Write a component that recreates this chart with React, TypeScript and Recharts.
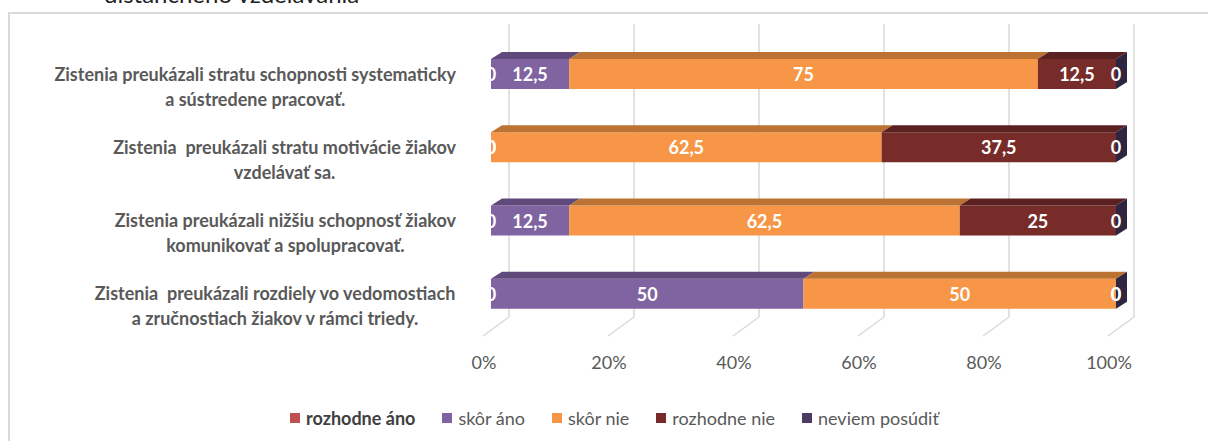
import React from 'react';
import { BarChart, Bar, XAxis, YAxis, CartesianGrid, LabelList } from 'recharts';

// ---------- data ----------
const categories = [
  'Zistenia preukázali stratu schopnosti systematicky\na sústredene pracovať.',
  'Zistenia  preukázali stratu motivácie žiakov\nvzdelávať sa.',
  'Zistenia preukázali nižšiu schopnosť žiakov\nkomunikovať a spolupracovať.',
  'Zistenia  preukázali rozdiely vo vedomostiach\na zručnostiach žiakov v rámci triedy.',
];
const rozhodneAno = [0, 0, 0, 0];
const skorAno = [12.5, 0, 12.5, 50];
const skorNie = [75, 62.5, 62.5, 50];
const rozhodneNie = [12.5, 37.5, 25, 0];
const neviemPosudit = [0, 0, 0, 0];
const seriesNames = ['rozhodne áno', 'skôr áno', 'skôr nie', 'rozhodne nie', 'neviem posúdiť'];
const xTicks = [0, 20, 40, 60, 80, 100];
const titleFragment = 'dištančného vzdelávania';

// ---------- styles ----------
const FONT = 'Lato, "Open Sans", sans-serif';
const seriesStyles = [
  { front: '#c0504d', top: '#9b3f3c', side: '#7f3533' },
  { front: '#8064a2', top: '#604a7b', side: '#4f3d66' },
  { front: '#f79646', top: '#bb7233', side: '#9c5e2a' },
  { front: '#772c2a', top: '#5a2120', side: '#441917' },
  { front: '#4d3b62', top: '#3a2c4b', side: '#2e2640' },
];
const DX = 11; // bar depth offset
const DY = 7;
const BACK_DX = 18; // back wall offset
const BACK_TOP_UP = 13;
const BACK_BOTTOM_UP = 13;
const FLOOR_FRONT_DX = -8;
const FLOOR_FRONT_DOWN = 6;

const seriesArrays = [rozhodneAno, skorAno, skorNie, rozhodneNie, neviemPosudit];
const keys = ['s0', 's1', 's2', 's3', 's4'];
const data = categories.map((name, i) => {
  const row: any = { name };
  seriesArrays.forEach((arr, k) => (row[keys[k]] = arr[i]));
  return row;
});

let measureCtx: CanvasRenderingContext2D | null = null;
function textWidth(s: string, font: string) {
  if (typeof document === 'undefined') return s.length * 8;
  if (!measureCtx) measureCtx = document.createElement('canvas').getContext('2d');
  if (!measureCtx) return s.length * 8;
  measureCtx.font = font;
  return measureCtx.measureText(s).width;
}

const CAT_SIZE = 18;
const CategoryTick = (props: any) => {
  const { x, y, payload } = props;
  const lines = String(payload.value).split('\n');
  const w1 = textWidth(lines[0], `bold ${CAT_SIZE}px Lato`);
  const cx = x - w1 / 2;
  return (
    <g>
      {lines.map((l, i) => (
        <text
          key={i}
          x={cx}
          y={y + i * 25}
          textAnchor="middle"
          dominantBaseline="central"
          fill="#595959"
          fontFamily={FONT}
          fontWeight="bold"
          fontSize={CAT_SIZE}
          style={{ whiteSpace: 'pre' }}
        >
          {l}
        </text>
      ))}
    </g>
  );
};

const PercentTick = (props: any) => {
  const { x, payload } = props;
  return (
    <text
      x={x - 7}
      y={362}
      textAnchor="middle"
      dominantBaseline="central"
      fill="#595959"
      fontFamily={FONT}
      fontSize={18}
    >
      {`${payload.value}%`}
    </text>
  );
};

const gridLine = (props: any) => {
  const { x1, y1, y2, key } = props;
  const bx = x1 + BACK_DX;
  const top = y1 - BACK_TOP_UP;
  const bottom = y2 - BACK_BOTTOM_UP;
  return (
    <g key={key}>
      <line x1={bx} y1={top} x2={bx} y2={bottom} stroke="#d9d9d9" strokeWidth={1.5} />
      <line x1={bx} y1={bottom} x2={x1 + FLOOR_FRONT_DX} y2={y2 + FLOOR_FRONT_DOWN} stroke="#d9d9d9" strokeWidth={1.5} />
    </g>
  );
};

const makeShape = (idx: number) => (props: any) => {
  const { x, y, width, height } = props;
  const st = seriesStyles[idx];
  const w = Math.max(0, width || 0);
  const isLast = idx === seriesStyles.length - 1;
  return (
    <g>
      {w > 0 && <rect x={x} y={y} width={w} height={height} fill={st.front} />}
      {w > 0 && (
        <polygon
          points={`${x},${y} ${x + w},${y} ${x + w + DX},${y - DY} ${x + DX},${y - DY}`}
          fill={st.top}
        />
      )}
      {isLast && (
        <polygon
          points={`${x + w},${y} ${x + w + DX},${y - DY} ${x + w + DX},${y + height - DY} ${x + w},${y + height}`}
          fill={st.side}
        />
      )}
    </g>
  );
};

const ValueLabel = (props: any) => {
  const { x, y, width, height, value } = props;
  return (
    <text
      x={x + (width || 0) / 2}
      y={y + height / 2}
      textAnchor="middle"
      dominantBaseline="central"
      fill="#ffffff"
      fontFamily={FONT}
      fontWeight="bold"
      fontSize={18}
    >
      {String(value).replace('.', ',')}
    </text>
  );
};

const LegendBox = () => (
  <div
    style={{
      position: 'absolute',
      left: 290,
      top: 407,
      display: 'flex',
      alignItems: 'center',
      fontFamily: FONT,
      fontSize: 18,
      color: '#595959',
      whiteSpace: 'nowrap',
    }}
  >
    {seriesNames.map((n, i) => (
      <div key={n} style={{ display: 'flex', alignItems: 'center', marginRight: 27 }}>
        <span
          style={{
            display: 'inline-block',
            width: 10,
            height: 10,
            background: seriesStyles[i].front,
            marginRight: 6,
          }}
        />
        <span style={i === 0 ? { fontWeight: 'bold', color: '#404040' } : undefined}>{n}</span>
      </div>
    ))}
  </div>
);

export default function App() {
  return (
    <div
      style={{
        position: 'absolute',
        left: 0,
        top: 0,
        width: 1208,
        height: 441,
        overflow: 'hidden',
        background: '#ffffff',
      }}
    >
      <svg width={1208} height={20} style={{ position: 'absolute', left: 0, top: 0 }}>
        <text x={104} y={3} fontFamily={FONT} fontSize={24} fill="#222">
          {titleFragment}
        </text>
      </svg>
      <div
        style={{
          position: 'absolute',
          left: 8,
          top: 12,
          width: 1230,
          height: 460,
          border: '2px solid #d9d9d9',
          boxSizing: 'border-box',
        }}
      />
      <div style={{ position: 'absolute', left: 0, top: 0 }}>
        <BarChart
          width={1208}
          height={441}
          data={data}
          layout="vertical"
          margin={{ top: 37, right: 92, bottom: 81, left: 0 }}
          barSize={30}
        >
          <CartesianGrid horizontal={false} vertical={gridLine} stroke="#d9d9d9" />
          <XAxis
            type="number"
            domain={[0, 100]}
            ticks={xTicks}
            axisLine={false}
            tickLine={false}
            tick={PercentTick}
            height={30}
            interval={0}
          />
          <YAxis
            type="category"
            dataKey="name"
            width={491}
            axisLine={false}
            tickLine={false}
            tickSize={0}
            tickMargin={35}
            tick={CategoryTick}
            interval={0}
          />
          {keys.map((k, i) => (
            <Bar
              key={k}
              dataKey={k}
              name={seriesNames[i]}
              stackId="a"
              isAnimationActive={false}
              shape={makeShape(i)}
            >
              <LabelList dataKey={k} content={ValueLabel} />
            </Bar>
          ))}
        </BarChart>
      </div>
      <LegendBox />
    </div>
  );
}
